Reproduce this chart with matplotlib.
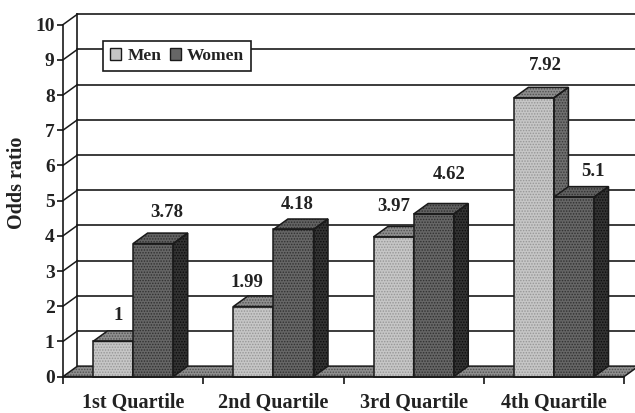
import matplotlib.pyplot as plt
from matplotlib.patches import Patch, Polygon

plt.rcParams['font.family'] = ['Liberation Serif', 'DejaVu Serif']
plt.rcParams['font.weight'] = 'bold'
plt.rcParams['hatch.linewidth'] = 0.7

quartiles = ['1st Quartile', '2nd Quartile', '3rd Quartile', '4th Quartile']
men = [1, 1.99, 3.97, 7.92]
women = [3.78, 4.18, 4.62, 5.1]
men_labels = ['1', '1.99', '3.97', '7.92']
women_labels = ['3.78', '4.18', '4.62', '5.1']
y_ticks = list(range(0, 11))

# label offsets in pixels from the front centre of the bar top
men_offset = [(5, 26), (-6, 24), (0, 30), (11, 32)]
women_offset = [(14, 31), (4, 25), (15, 39), (19, 26)]

# depth of the fake 3D, in data units
DX = 0.1034
DY = 0.298
BAR_W = 0.286
BAR_START = 0.214

TXT = '#222222'
LINE = '#1a1a1a'

# shades: front, top, side
MEN_COL = ('#c6c6c6', '#8e8e8e', '#6f6f6f')
WOMEN_COL = ('#666666', '#626262', '#333333')
GRAIN = {'#c6c6c6': '#969696', '#8e8e8e': '#505050', '#6f6f6f': '#383838',
         '#666666': '#303030', '#626262': '#303030', '#333333': '#0c0c0c'}


def face(ax, pts, col, z):
    # grain first, then the black outline on top
    ax.add_patch(Polygon(pts, closed=True, facecolor=col, edgecolor=GRAIN[col],
                         hatch='......', linewidth=0, zorder=z))
    ax.add_patch(Polygon(pts, closed=True, fill=False, edgecolor=LINE,
                         linewidth=1.1, zorder=z + 0.1))


def bar3d(ax, x, h, cols, z):
    x2 = x + BAR_W
    face(ax, [(x2, 0), (x2 + DX, DY), (x2 + DX, h + DY), (x2, h)], cols[2], z)
    face(ax, [(x, h), (x + DX, h + DY), (x2 + DX, h + DY), (x2, h)], cols[1], z)
    face(ax, [(x, 0), (x2, 0), (x2, h), (x, h)], cols[0], z)


fig = plt.figure(figsize=(6.35, 4.13), dpi=100)
ax = fig.add_axes([0, 0, 1, 1])
ax.set_xlim(-0.449, 4.078)
ax.set_ylim(-1.034, 10.70)

# back wall and gridlines
for t in y_ticks[1:]:
    ax.plot([DX, 4 + 2 * DX], [t + DY, t + DY], color=LINE, lw=1.2, zorder=1)
    ax.plot([0, DX], [t, t + DY], color=LINE, lw=1.1, zorder=1)
ax.plot([DX, DX], [DY, 10 + DY], color=LINE, lw=1.2, zorder=1)

# floor
face(ax, [(0, 0), (DX, DY), (4 + DX, DY), (4, 0)], '#8e8e8e', 2)

for i in range(len(quartiles)):
    bar3d(ax, i + BAR_START, men[i], MEN_COL, 3 + i)
    bar3d(ax, i + BAR_START + BAR_W, women[i], WOMEN_COL, 3.5 + i)
    ax.annotate(men_labels[i], (i + BAR_START + BAR_W / 2, men[i]),
                xytext=(men_offset[i][0] * 0.72, men_offset[i][1] * 0.72),
                textcoords='offset points', ha='center', va='center',
                fontsize=13.5, color=TXT, zorder=10)
    ax.annotate(women_labels[i], (i + BAR_START + 1.5 * BAR_W, women[i]),
                xytext=(women_offset[i][0] * 0.72, women_offset[i][1] * 0.72),
                textcoords='offset points', ha='center', va='center',
                fontsize=13.5, color=TXT, zorder=10)

# real axes, spines moved onto the front corner
for s in ['top', 'right']:
    ax.spines[s].set_visible(False)
ax.spines['left'].set_position(('data', 0))
ax.spines['left'].set_bounds(0, 10)
ax.spines['bottom'].set_position(('data', 0))
ax.spines['bottom'].set_bounds(0, 4)
for s in ['left', 'bottom']:
    ax.spines[s].set_linewidth(1.2)
    ax.spines[s].set_color(LINE)
    ax.spines[s].set_zorder(20)

ax.set_yticks(y_ticks)
ax.tick_params(axis='y', labelsize=14, labelcolor=TXT, length=4, width=1.1, pad=2)
for lab in ax.get_yticklabels():
    lab.set_verticalalignment('center_baseline')
ax.set_xticks(range(5))
ax.set_xticklabels([])
ax.tick_params(axis='x', which='major', length=5, width=1.1)
ax.set_xticks([i + 0.5 for i in range(4)], minor=True)
ax.set_xticklabels(quartiles, minor=True, fontsize=14.5, color=TXT)
ax.tick_params(axis='x', which='minor', length=0, pad=11.5)

ax.text(17, 413 - 183, 'Odds ratio', transform=None, rotation=90,
        ha='center', va='center', fontsize=14.5, color=TXT)

handles = [Patch(facecolor=MEN_COL[0], edgecolor=LINE, label='Men'),
           Patch(facecolor=WOMEN_COL[0], edgecolor=LINE, label='Women')]
leg = ax.legend(handles=handles, ncol=2, loc='upper left',
                bbox_to_anchor=(103 / 635, 1 - 41 / 413), fontsize=12.5,
                labelcolor=TXT, fancybox=False, framealpha=1, edgecolor=LINE,
                handlelength=0.65, handleheight=0.65, handletextpad=0.35,
                columnspacing=0.5, borderpad=0.4, borderaxespad=0)
leg.get_frame().set_linewidth(1.2)
leg.set_zorder(30)

fig.savefig('out.png', dpi=100)
